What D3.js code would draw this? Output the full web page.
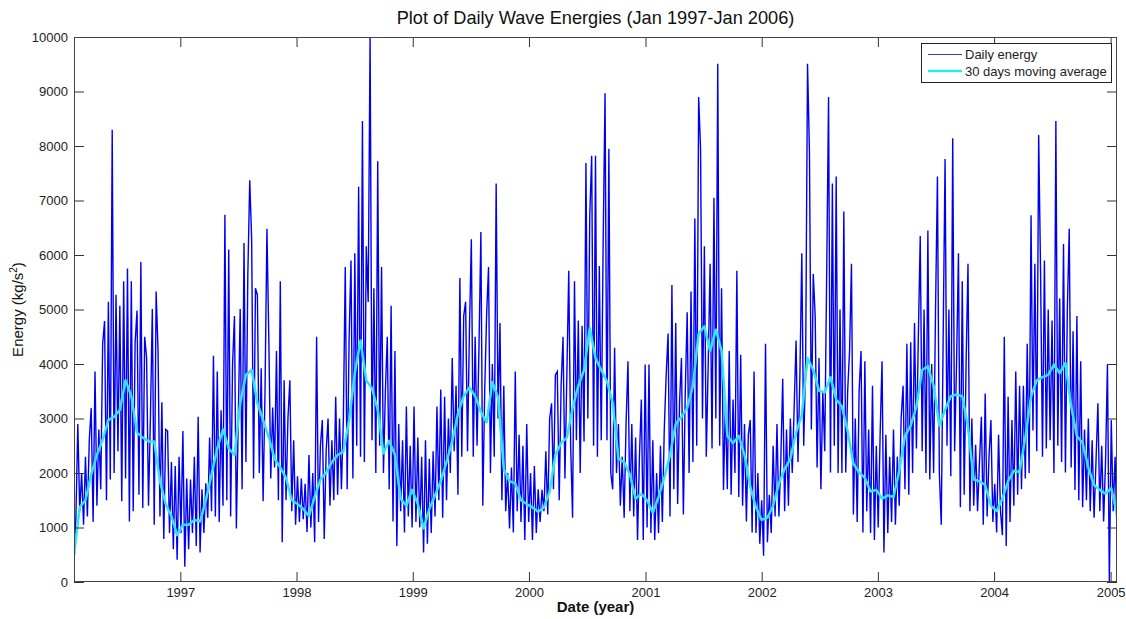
<!DOCTYPE html>
<html lang="en">
<head>
<meta charset="utf-8">
<script src="https://d3js.org/d3.v7.min.js"></script>
<style>
  body { margin: 0; background: #fff; }
  text { font-family: Arial, "Liberation Sans", sans-serif; }
</style>
</head>
<body>
<script>
// daily wave energy, one reading every 6 days starting 2 Feb 1996
var dailyEnergy = [
  300,1200,2900,1300,2000,1050,2300,1200,2600,3190,
  1100,3860,1400,2800,1700,4370,4790,1500,5140,1880,
  8300,2000,5270,2400,5070,1480,5520,1900,5750,1110,
  5520,1300,4400,4980,1600,5870,1360,4500,4120,1400,
  3000,5010,1050,5330,4240,1200,3300,790,2800,2770,
  900,2200,600,2130,410,2300,900,2770,280,1900,
  600,1880,900,2300,660,3030,540,1700,900,1810,
  1180,2650,1300,4150,1200,3860,1100,3150,
  1400,6740,1500,6100,1200,3990,4880,980,3000,5010,
  1700,6220,2200,5650,7370,6290,1900,5390,5270,2000,
  3920,1480,3500,6480,4430,1900,3200,2100,4240,1500,
  5520,730,3700,1500,3000,3700,1300,2600,1050,1940,
  1100,1900,1150,1800,920,2330,1000,2000,730,4500,
  1100,2500,2970,790,2400,3000,1400,2600,1500,3400,
  1600,3000,1700,2970,5780,1700,4430,5900,1900,6030,
  2500,7250,2300,8460,2200,6160,5140,10000,2600,
  5390,2000,7720,2500,5780,2000,3500,4500,1700,5070,
  1110,4240,660,2900,1300,2600,910,3220,1200,2500,
  1000,3220,1100,2650,1000,2300,540,2600,700,2260,
  900,2400,1200,3220,1500,3530,1180,3400,1500,3000,
  2000,4110,2400,3600,1600,5580,2300,4880,5140,2400,
  4600,6290,2300,4500,2500,4300,6420,1400,3500,4900,
  5780,2000,4000,2300,7310,3000,4750,1500,3600,1300,
  2000,980,2100,910,3860,1300,2700,1100,2500,
  770,2900,1100,2000,770,2130,900,1700,1100,1690,
  1300,2400,1240,3000,3280,1700,3800,3860,1500,3600,
  4500,1900,3800,5710,2500,1180,5520,2600,4800,2000,
  4700,2580,7690,3000,6730,7820,2500,7820,2300,5800,
  2600,6200,8970,2600,7950,2000,1700,4300,2000,2900,
  1400,2300,1180,2900,4050,1300,2900,1200,2650,770,
  2300,3350,770,3990,1000,3990,900,2600,770,2000,
  900,2500,1100,2800,3800,4560,1200,5450,1700,
  4750,1430,3300,4110,1240,3500,4950,2000,5330,2200,
  6670,2500,8900,7950,3000,6160,2300,4000,5840,2450,
  7050,3000,9510,2500,5390,1690,3300,1700,4240,1600,
  3350,2000,5710,1560,4170,1400,2900,1110,2700,2970,
  910,3860,900,2000,700,1500,480,4370,730,1600,
  900,2500,1200,2900,1200,2200,3730,1300,2800,1400,
  3000,2000,3200,4430,2200,3800,6030,2500,4000,9510,
  7890,2800,5650,4880,2100,4110,1700,3500,
  2400,5590,8900,2010,7310,2500,7440,2000,5000,2000,
  6800,2010,3500,4240,5840,1240,3000,1100,3500,4240,
  910,4050,1300,2800,900,3600,770,2500,1000,2700,
  4050,540,2700,900,2300,1100,2800,1050,2300,1400,
  3000,3600,1700,4370,1600,4400,2000,4750,2450,4500,
  6350,2400,5000,2000,6450,1880,4000,2000,5000,7440,
  2000,1050,4500,7760,2500,5000,1940,8140,2400,4000,
  6030,1370,5520,1600,4000,5840,1300,3000,1400,
  2520,1300,2200,3030,1050,3460,1200,2300,2970,1100,
  1800,910,2700,1300,860,4500,660,3400,1100,2970,
  1400,3860,1600,3600,1700,3600,1900,4370,2000,6730,
  2780,5840,2400,8200,5660,2300,5900,2450,5000,2600,
  4800,2000,8460,2500,5200,2200,6200,2010,5000,6480,
  2100,4600,1690,4880,1500,4050,1370,2800,1500,3000,
  1300,2600,1180,2200,3280,1300,2500,1110,2200,3990,
  0,2970,1300,2300,910
];

// 30 days moving average, one reading every 18 days from the same start
var movingAvg = [
  500,1370,1500,1970,2330,2610,2970,3030,3160,3700,
  3410,2740,2650,2580,2580,1850,1430,1210,860,1050,
  1050,1140,1110,1500,1970,2450,2800,2450,2330,3280,
  3800,3890,3280,2970,2650,2260,2100,1910,1500,1430,
  1340,1210,1560,1880,2010,2200,2330,2390,2970,3830,
  4430,3700,3550,3160,2360,2590,2330,1530,1400,1690,
  1430,980,1340,1590,1850,2200,2580,3090,3410,3570,
  3410,3120,2930,3670,3380,2070,1850,1810,1500,1430,
  1370,1290,1370,1660,2330,2550,2650,3190,3600,3890,
  4660,4110,3890,3680,3280,2260,2200,1970,1530,1620,
  1500,1270,1560,1910,2330,2900,3030,3190,3600,4560,
  4690,4240,4630,4240,2680,2550,2680,2330,1750,1370,
  1140,1180,1400,1810,2070,2260,2740,3060,4110,3890,
  3510,3480,3760,3350,3220,2770,2170,2010,1910,1660,
  1690,1530,1590,1560,2040,2680,2870,3220,3890,3960,
  3600,2870,3160,3410,3440,3410,2840,1880,1850,1780,
  1400,1300,1530,1850,2040,2020,2650,3400,3700,3760,
  3800,3990,3830,4020,3220,2680,2550,2100,1780,1690,
  1620,1720,1240
];

var yearTicks = [1997, 1998, 1999, 2000, 2001, 2002, 2003, 2004, 2005];
var energyTicks = [0, 1000, 2000, 3000, 4000, 5000, 6000, 7000, 8000, 9000, 10000];

var W = 1126, H = 619;
var plotL = 74, plotR = 1117, plotT = 37, plotB = 582;
var dailyStep = 6, avgStep = 18;

var start = new Date(1996, 1, 2);
function dayAfter(n) {
  var d = new Date(start);
  d.setDate(d.getDate() + n);
  return d;
}

var x = d3.scaleTime()
  .domain([start, dayAfter((dailyEnergy.length - 1) * dailyStep)])
  .range([plotL, plotR]);
var y = d3.scaleLinear().domain([0, 10000]).range([plotB, plotT]);

var svg = d3.select("body").append("svg")
  .attr("width", W)
  .attr("height", H);

svg.append("defs").append("clipPath").attr("id", "plotclip")
  .append("rect")
  .attr("x", plotL).attr("y", plotT)
  .attr("width", plotR - plotL).attr("height", plotB - plotT);

// data lines
var plot = svg.append("g").attr("clip-path", "url(#plotclip)");

var dailyLine = d3.line()
  .x(function (d, i) { return x(dayAfter(i * dailyStep)); })
  .y(function (d) { return y(d); });
var avgLine = d3.line()
  .x(function (d, i) { return x(dayAfter(i * avgStep)); })
  .y(function (d) { return y(d); });

plot.append("path")
  .datum(dailyEnergy)
  .attr("d", dailyLine)
  .attr("fill", "none")
  .attr("stroke", "#0000f0")
  .attr("stroke-width", 1.4);

plot.append("path")
  .datum(movingAvg)
  .attr("d", avgLine)
  .attr("fill", "none")
  .attr("stroke", "#2ee6f0")
  .attr("stroke-width", 2.5)
  .attr("stroke-linejoin", "round");

// axes, ticks pointing inwards like matlab
var yearDates = yearTicks.map(function (yr) { return new Date(yr, 0, 1); });
var fmtYear = d3.timeFormat("%Y");

function styleAxis(g) {
  g.select(".domain").remove();
  g.attr("color", "#333")
    .attr("font-size", 13)
    .attr("font-family", "Arial, 'Liberation Sans', sans-serif");
  g.selectAll("text").attr("fill", "#222");
}

svg.append("g")
  .attr("transform", "translate(0," + plotB + ")")
  .call(d3.axisBottom(x).tickValues(yearDates).tickFormat(fmtYear)
    .tickSizeInner(-10).tickSizeOuter(0).tickPadding(6))
  .call(styleAxis);

svg.append("g")
  .attr("transform", "translate(0," + plotT + ")")
  .call(d3.axisTop(x).tickValues(yearDates).tickFormat("")
    .tickSizeInner(-10).tickSizeOuter(0))
  .call(styleAxis);

svg.append("g")
  .attr("transform", "translate(" + plotL + ",0)")
  .call(d3.axisLeft(y).tickValues(energyTicks).tickFormat(d3.format("d"))
    .tickSizeInner(-10).tickSizeOuter(0).tickPadding(6))
  .call(styleAxis);

svg.append("g")
  .attr("transform", "translate(" + plotR + ",0)")
  .call(d3.axisRight(y).tickValues(energyTicks).tickFormat("")
    .tickSizeInner(-10).tickSizeOuter(0))
  .call(styleAxis);

svg.append("rect")
  .attr("x", plotL + 0.5).attr("y", plotT + 0.5)
  .attr("width", plotR - plotL - 1).attr("height", plotB - plotT - 1)
  .attr("fill", "none")
  .attr("stroke", "#444")
  .attr("stroke-width", 1);

// title and labels
svg.append("text")
  .attr("x", (plotL + plotR) / 2)
  .attr("y", 24)
  .attr("text-anchor", "middle")
  .attr("font-size", 18.2)
  .attr("fill", "#111")
  .text("Plot of Daily Wave Energies (Jan 1997-Jan 2006)");

svg.append("text")
  .attr("x", (plotL + plotR) / 2)
  .attr("y", 612)
  .attr("text-anchor", "middle")
  .attr("font-size", 15)
  .attr("font-weight", "bold")
  .attr("fill", "#111")
  .text("Date (year)");

var ylab = svg.append("text")
  .attr("transform", "translate(23," + (plotT + plotB) / 2 + ") rotate(-90)")
  .attr("text-anchor", "middle")
  .attr("font-size", 15)
  .attr("fill", "#111");
ylab.append("tspan").text("Energy (kg/s");
ylab.append("tspan").attr("dy", -6).attr("font-size", 10).text("2");
ylab.append("tspan").attr("dy", 6).text(")");

// legend
var legend = svg.append("g").attr("transform", "translate(921,43)");
legend.append("rect")
  .attr("x", 0.5).attr("y", 0.5)
  .attr("width", 190).attr("height", 39)
  .attr("fill", "#fff")
  .attr("stroke", "#222");

var legendItems = [
  { label: "Daily energy", color: "#4040a0", w: 1 },
  { label: "30 days moving average", color: "#2ee6f0", w: 2.5 }
];
legendItems.forEach(function (item, k) {
  var ly = 11.5 + k * 16.5;
  legend.append("line")
    .attr("x1", 7).attr("x2", 41)
    .attr("y1", ly).attr("y2", ly)
    .attr("stroke", item.color)
    .attr("stroke-width", item.w);
  legend.append("text")
    .attr("x", 44)
    .attr("y", ly + 4.5)
    .attr("font-size", 13)
    .attr("fill", "#222")
    .text(item.label);
});
</script>
</body>
</html>
